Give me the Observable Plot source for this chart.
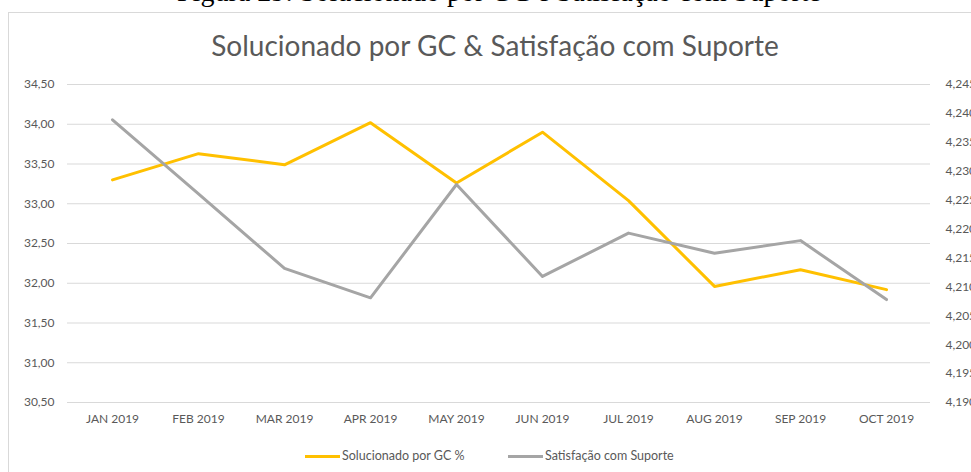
<!DOCTYPE html>
<html><head><meta charset="utf-8">
<script src="https://cdn.jsdelivr.net/npm/d3@7"></script>
<script src="https://cdn.jsdelivr.net/npm/@observablehq/plot@0.6"></script>
<style>
html,body{margin:0;padding:0;}
body{width:971px;height:472px;overflow:hidden;position:relative;background:#fff;font-family:Lato,"Open Sans",sans-serif;}
#caption{position:absolute;left:0;width:998px;top:-23px;text-align:center;font-family:"Liberation Serif","DejaVu Serif",serif;font-size:28px;line-height:30px;color:#000;white-space:nowrap;}
#frame{position:absolute;left:8px;top:12px;width:1000px;height:500px;border:1px solid #d9d9d9;box-sizing:border-box;background:#fff;}
#title{position:absolute;left:0;width:990px;top:29px;text-align:center;font-size:28px;line-height:32px;color:#595959;white-space:nowrap;}
#chart{position:absolute;left:0;top:0;width:1000px;height:472px;}
#chart svg{position:absolute;left:0;top:0;}
.sw{position:absolute;height:3px;top:455px;}
.lt{position:absolute;top:448px;font-size:12.5px;line-height:16px;color:#595959;white-space:nowrap;}
</style></head>
<body>
<div id="caption">Figura 29: Solucionado por GC e Satisfação com Suporte</div>
<div id="frame"></div>
<div id="title">Solucionado por GC &amp; Satisfação com Suporte</div>
<div id="chart"></div>
<div class="sw" style="left:305px;width:35px;background:#FFC000"></div>
<div class="lt" style="left:342px" id="l1"></div>
<div class="sw" style="left:508px;width:35px;background:#A5A5A5"></div>
<div class="lt" style="left:545px" id="l2"></div>
<script>
const months = ["JAN 2019","FEB 2019","MAR 2019","APR 2019","MAY 2019","JUN 2019","JUL 2019","AUG 2019","SEP 2019","OCT 2019"];
const seriesNames = ["Solucionado por GC %","Satisfação com Suporte"];
const solucionado = [33.30,33.63,33.49,34.02,33.26,33.90,33.04,31.96,32.17,31.92];
const satisfacao = [4.2389,4.2261,4.2132,4.2081,4.2277,4.2118,4.2193,4.2158,4.2180,4.2078];
const leftTicks = [30.5,31.0,31.5,32.0,32.5,33.0,33.5,34.0,34.5];
const rightTicks = [4.190,4.195,4.200,4.205,4.210,4.215,4.220,4.225,4.230,4.235,4.240,4.245];

document.getElementById("l1").textContent = seriesNames[0];
document.getElementById("l2").textContent = seriesNames[1];

const common = {
  width:1000, height:472, marginTop:84, marginBottom:70, marginLeft:67, marginRight:70,
  style:{fontFamily:"Lato, 'Open Sans', sans-serif", fontSize:"12px", color:"#595959", background:"transparent", overflow:"visible"}
};
const d1 = months.map((m,i)=>({m, v:solucionado[i]}));
const d2 = months.map((m,i)=>({m, v:satisfacao[i]}));

const p1 = Plot.plot({
  ...common,
  x:{type:"point", domain:months, padding:0.5, label:null},
  y:{domain:[30.5,34.5], label:null},
  marks:[
    Plot.ruleY(leftTicks,{stroke:"#d9d9d9", strokeWidth:1}),
    Plot.axisY({ticks:leftTicks, tickSize:0, tickPadding:13, label:null, fill:"#595959", tickFormat:d=>d.toFixed(2).replace(".",",")}),
    Plot.axisX({tickSize:0, tickPadding:12, label:null, fill:"#595959"}),
    Plot.line(d1,{x:"m", y:"v", stroke:"#FFC000", strokeWidth:3, strokeLinejoin:"round", strokeLinecap:"round"})
  ]
});
const p2 = Plot.plot({
  ...common,
  x:{type:"point", domain:months, padding:0.5, label:null, axis:null},
  y:{domain:[4.19,4.245], label:null, axis:null},
  marks:[
    Plot.axisY({ticks:rightTicks, anchor:"right", tickSize:0, tickPadding:15, label:null, fill:"#595959", tickFormat:d=>d.toFixed(3).replace(".",",")}),
    Plot.line(d2,{x:"m", y:"v", stroke:"#A5A5A5", strokeWidth:3, strokeLinejoin:"round", strokeLinecap:"round"})
  ]
});
const c = document.getElementById("chart");
c.appendChild(p1);
c.appendChild(p2);
</script>
</body></html>
